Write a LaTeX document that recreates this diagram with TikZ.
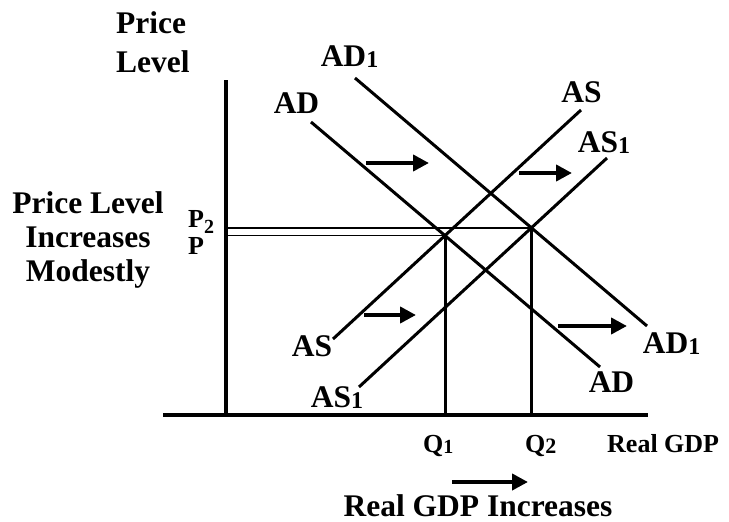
\documentclass[tikz,border=0pt]{standalone}
\usepackage{fontspec}
\setmainfont{Liberation Serif}
\usetikzlibrary{arrows.meta, positioning}

% smaller index digit after a label
\newcommand\idx[2][24]{\raisebox{-1.5pt}{\fontsize{#1}{#1}\selectfont #2}}

\begin{document}
\begin{tikzpicture}[x=1pt, y=-1pt, >={Triangle[length=16pt, width=16pt]},
    every node/.style={inner sep=0pt, font=\fontsize{31.5}{34}\selectfont\bfseries},
    axislab/.style={font=\fontsize{26}{30}\selectfont\bfseries},
    axisline/.style={line width=3.3pt},
    econline/.style={line width=3pt},
    pline/.style={line width=1.6pt},
    shiftarrow/.style={->, line width=4pt}]

    \useasboundingbox (0,0) rectangle (729,522);

    % =================================================================
    % AXES
    % =================================================================
    \coordinate (o) at (226,415);
    \coordinate (ytop) at (226,80);
    \coordinate (xleft) at (163,415);
    \coordinate (xright) at (648,415);
    \draw[axisline] (ytop) -- (o);
    \draw[axisline] (xleft) -- (xright);

    \node[align=left, anchor=north west, font=\fontsize{31.5}{39}\selectfont\bfseries]
        (plevel) at (116,11.3) {Price\\Level};
    \node[axislab, anchor=base west] (realgdp) at (607,452) {Real GDP};

    % =================================================================
    % AD / AS CURVES
    % =================================================================
    \coordinate (ad-a) at (311,122);
    \coordinate (ad-b) at (600,367);
    \coordinate (ad1-a) at (355,78);
    \coordinate (ad1-b) at (647,326);
    \coordinate (as-a) at (333,339);
    \coordinate (as-b) at (581,110);
    \coordinate (as1-a) at (359,387);
    \coordinate (as1-b) at (607,158);

    \draw[econline] (ad-a) -- (ad-b);
    \draw[econline] (ad1-a) -- (ad1-b);
    \draw[econline] (as-a) -- (as-b);
    \draw[econline] (as1-a) -- (as1-b);

    % curve labels
    \node[anchor=base] (ad-top) at (296.5,113) {AD};
    \node[anchor=base] (ad-bot) at (611.5,392) {AD};
    \node[anchor=base] (ad1-top) at (349.5,66) {AD\idx{1}};
    \node[anchor=base] (ad1-bot) at (671.5,353) {AD\idx{1}};
    \node[anchor=base] (as-top) at (581.5,102) {AS};
    \node[anchor=base] (as-bot) at (312,356) {AS};
    \node[anchor=base] (as1-top) at (604,152) {AS\idx{1}};
    \node[anchor=base] (as1-bot) at (337,407) {AS\idx{1}};

    % =================================================================
    % EQUILIBRIA
    % =================================================================
    \coordinate (e1) at (intersection of ad-a--ad-b and as-a--as-b);
    \coordinate (e2) at (intersection of ad1-a--ad1-b and as1-a--as1-b);

    \draw[pline] (e2) -- (e2 -| o);
    \draw[pline] (e1) -- (e1 -| o);
    \draw[econline] (e1) -- (e1 |- o);
    \draw[econline] (e2) -- (e2 |- o);

    \node[axislab, anchor=base west] (p2) at (188,227) {P\raisebox{-6pt}{\fontsize{20}{20}\selectfont 2}};
    \node[axislab, anchor=base west] (p1) at (188,254) {P};
    \node[axislab, anchor=base west] (q1) at (423,452) {Q\idx[20]{1}};
    \node[axislab, anchor=base west] (q2) at (525,452) {Q\idx[22]{2}};

    % =================================================================
    % SHIFT ARROWS AND NOTES
    % =================================================================
    \foreach \xa/\xb/\y in {366/429/163, 519/572/173, 364/416/315, 558/627/326, 452/528/482} {
        \draw[shiftarrow] (\xa,\y) -- (\xb,\y);
    }

    \node[align=center, anchor=north] (pnote) at (88,191.5) {Price Level\\Increases\\Modestly};
    \node[anchor=base] (qnote) at (478,516) {Real GDP Increases};

\end{tikzpicture}
\end{document}
